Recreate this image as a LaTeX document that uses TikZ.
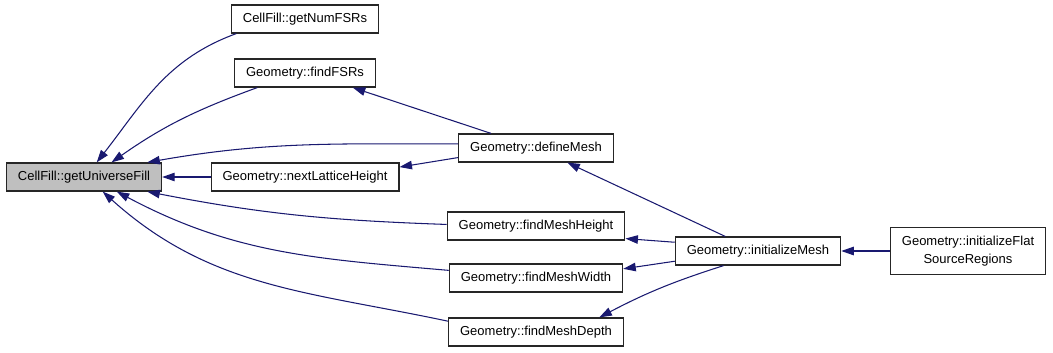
\documentclass[tikz,border=0pt]{standalone}
\usepackage{fontspec}
\setmainfont{Liberation Sans}
\usetikzlibrary{arrows.meta}
\definecolor{edgeblue}{HTML}{191970}
\definecolor{hilite}{HTML}{BFBFBF}

\begin{document}
\begin{tikzpicture}[x=0.02cm, y=-0.02cm,
    fn/.style={draw=black!85, line width=0.7pt, minimum height=0.56cm, inner xsep=0.23cm, inner ysep=0pt,
      font=\fontsize{7.4}{10.2}\selectfont, align=center},
    call/.style={edgeblue, line width=0.6pt, {Triangle[length=0.25cm,width=0.17cm]}-}]
  \useasboundingbox (0,0) rectangle (1053,352);

  % functions
  \node[fn, fill=hilite] (guf) at (84,177) {CellFill::getUniverseFill};
  \node[fn] (gnf) at (305,19) {CellFill::getNumFSRs};
  \node[fn] (ffsr) at (305,73) {Geometry::findFSRs};
  \node[fn] (nlh) at (305,177) {Geometry::nextLatticeHeight};
  \node[fn] (dm) at (536,148) {Geometry::defineMesh};
  \node[fn] (fmh) at (536,226) {Geometry::findMeshHeight};
  \node[fn] (fmw) at (536,278) {Geometry::findMeshWidth};
  \node[fn] (fmd) at (536,332) {Geometry::findMeshDepth};
  \node[fn] (im) at (758,251) {Geometry::initializeMesh};
  \node[fn, minimum height=0.94cm] (ifsr) at (968,251) {Geometry::initializeFlat\\SourceRegions};

  % callers of getUniverseFill
  \draw[call] (guf.49) to[out=52,in=200] (gnf.192);
  \draw[call] (guf.28) to[out=35,in=200] (ffsr.197);
  \draw[call] (guf.13) to[out=10,in=180] (dm.177);
  \draw[call] (guf.east) -- (nlh.west);
  \draw[call] (guf.-13) to[out=-11,in=178] (fmh.179);
  \draw[call] (guf.-24) to[out=-28,in=175] (fmw.175);
  \draw[call] (guf.-38) to[out=-42,in=168] (fmd.173);

  % the rest
  \draw[call] (ffsr.-17) -- (dm.162);
  \draw[call] (nlh.6) -- (dm.187);
  \draw[call] (dm.-25) -- (im.156);
  \draw[call] (fmh.-8) -- (im.174);
  \draw[call] (fmw.6) -- (im.187);
  \draw[call] (fmd.13) to[bend left=5] (im.203);
  \draw[call] (im.east) -- (ifsr.west);
\end{tikzpicture}
\end{document}
